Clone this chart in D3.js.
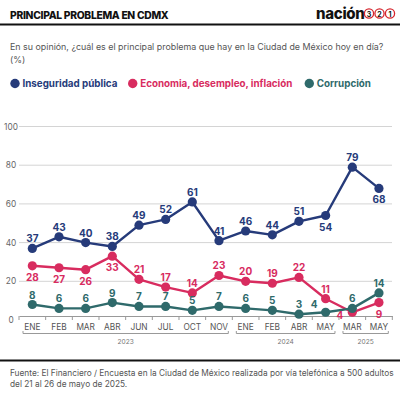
<!DOCTYPE html>
<html>
<head>
<meta charset="utf-8">
<script src="https://cdn.jsdelivr.net/npm/d3@7"></script>
<style>
  body { margin: 0; background: #fff; }
  svg text { font-family: "Inter", "Noto Sans", sans-serif; }
</style>
</head>
<body>
<div id="chart"></div>
<script>
// data
const months = ["ENE","FEB","MAR","ABR","JUN","JUL","OCT","NOV","ENE","FEB","ABR","MAY","MAR","MAY"];
const years = [
    { label: "2023", from: 0, to: 7 },
    { label: "2024", from: 8, to: 11 },
    { label: "2025", from: 12, to: 13 }
];
const inseguridad = [37,43,40,38,49,52,61,41,46,44,51,54,79,68];
const economia = [28,27,26,33,21,17,14,23,20,19,22,11,4,9];
const corrupcion = [8,6,6,9,7,7,5,7,6,5,3,4,6,14];
const yTicks = [0,20,40,60,80,100];

// label placement: "t" above, "b" below, "l" left, "tl" up-left
const inseguridadPos = ["t","t","t","t","t","t","t","t","t","t","t","b","t","b"];
const economiaPos = ["b","b","b","b","t","t","t","t","t","t","t","t","l","b"];
const corrupcionPos = ["t","t","t","t","t","t","t","t","t","t","t","tl","t","t"];

const series = [
    { name: "Inseguridad pública", values: inseguridad, pos: inseguridadPos, colour: "#263b7a" },
    { name: "Economia, desempleo, inflación", values: economia, pos: economiaPos, colour: "#d82c5f" },
    { name: "Corrupción", values: corrupcion, pos: corrupcionPos, colour: "#2f6a6b" }
];

const W = 400, H = 393;
const svg = d3.select("#chart").append("svg")
    .attr("width", W)
    .attr("height", H);

// header
svg.append("text")
    .attr("x", 10).attr("y", 19)
    .attr("font-size", 10.3).attr("font-weight", 800)
    .attr("fill", "#111")
    .style("letter-spacing", "-0.3px")
    .text("PRINCIPAL PROBLEMA EN CDMX");

svg.append("text")
    .attr("x", 316).attr("y", 18.5)
    .attr("font-size", 15).attr("font-weight", 800)
    .attr("fill", "#111")
    .style("letter-spacing", "-0.3px")
    .text("nación");

["3","2","1"].forEach((d, i) => {
    let cx = 369 + i * 10.5;
    svg.append("circle")
        .attr("cx", cx).attr("cy", 13.5).attr("r", 4.6)
        .attr("fill", "#fff").attr("stroke", "#d6262e").attr("stroke-width", 1.3);
    svg.append("text")
        .attr("x", cx).attr("y", 16.5)
        .attr("text-anchor", "middle")
        .attr("font-size", 7).attr("font-weight", 700)
        .attr("fill", "#111")
        .text(d);
});

svg.append("line")
    .attr("x1", 0).attr("x2", W)
    .attr("y1", 24.5).attr("y2", 24.5)
    .attr("stroke", "#111").attr("stroke-width", 2);

// subtitle
svg.append("text")
    .attr("x", 10).attr("y", 50)
    .attr("font-size", 8.9).attr("fill", "#555")
    .text("En su opinión, ¿cuál es el principal problema que hay en la Ciudad de México hoy en día?");
svg.append("text")
    .attr("x", 10).attr("y", 63)
    .attr("font-size", 8.9).attr("fill", "#555")
    .text("(%)");

// legend
const legendX = [15, 132.7, 309.3];
series.forEach((s, i) => {
    svg.append("circle")
        .attr("cx", legendX[i]).attr("cy", 83.5).attr("r", 4.7)
        .attr("fill", s.colour);
    svg.append("text")
        .attr("x", legendX[i] + 7.5).attr("y", 87)
        .attr("font-size", 9.8).attr("font-weight", 700)
        .attr("fill", s.colour)
        .text(s.name);
});

// scales
const x = d3.scaleBand()
    .domain(d3.range(months.length))
    .range([19, 392.3]);

const y = d3.scaleLinear()
    .domain([0, 100])
    .range([320, 126.5]);

const xc = i => x(i) + x.bandwidth() / 2;

// gridlines
svg.append("g")
    .selectAll("line")
    .data(yTicks.filter(d => d > 0))
    .enter().append("line")
    .attr("x1", 19).attr("x2", 392)
    .attr("y1", d => y(d)).attr("y2", d => y(d))
    .attr("stroke", "#d4d4d4").attr("stroke-width", 1);

svg.append("g")
    .selectAll("text")
    .data(yTicks)
    .enter().append("text")
    .attr("x", 11).attr("y", d => y(d) + 3)
    .attr("text-anchor", "middle")
    .attr("font-size", 8.3).attr("fill", "#666")
    .text(d => d);

// x axis
const axisY = 316;
const xAxis = svg.append("g")
    .attr("transform", "translate(0," + axisY + ")")
    .call(d3.axisBottom(x).tickSize(0).tickFormat(i => months[i]));
xAxis.select(".domain").attr("stroke", "#999").attr("stroke-width", 1);
xAxis.selectAll("text")
    .attr("dy", 0).attr("y", 14)
    .attr("font-size", 8.3).attr("fill", "#555")
    .style("font-family", "Inter, sans-serif");

// ticks between categories
xAxis.selectAll(".sep")
    .data(d3.range(months.length + 1))
    .enter().append("line")
    .attr("class", "sep")
    .attr("x1", i => 19 + i * x.step()).attr("x2", i => 19 + i * x.step())
    .attr("y1", 0).attr("y2", 4)
    .attr("stroke", "#999");

// year brackets
const yearG = svg.append("g");
years.forEach(yr => {
    let x1 = x(yr.from) + 4, x2 = x(yr.to) + x.bandwidth() - 4, by = 333.5;
    yearG.append("path")
        .attr("d", "M" + x1 + "," + (by - 2.5) + "V" + by + "H" + x2 + "V" + (by - 2.5))
        .attr("fill", "none").attr("stroke", "#999").attr("stroke-width", 1);
    yearG.append("text")
        .attr("x", (x1 + x2) / 2).attr("y", 343.5)
        .attr("text-anchor", "middle")
        .attr("font-size", 6.6).attr("fill", "#777")
        .text(yr.label);
});

// lines, points, labels
const line = d3.line()
    .x((d, i) => xc(i))
    .y(d => y(d));

series.forEach(s => {
    let g = svg.append("g");
    g.append("path")
        .datum(s.values)
        .attr("d", line)
        .attr("fill", "none")
        .attr("stroke", s.colour)
        .attr("stroke-width", 2.4)
        .attr("stroke-linejoin", "round");
    g.selectAll("circle")
        .data(s.values)
        .enter().append("circle")
        .attr("cx", (d, i) => xc(i))
        .attr("cy", d => y(d))
        .attr("r", 4.6)
        .attr("fill", s.colour);
});

series.forEach(s => {
    svg.append("g")
        .selectAll("text")
        .data(s.values)
        .enter().append("text")
        .attr("x", (d, i) => {
            let p = s.pos[i];
            if (p === "l") return xc(i) - 9;
            if (p === "tl") return xc(i) - 8;
            return xc(i);
        })
        .attr("y", (d, i) => {
            let p = s.pos[i];
            if (p === "b") return y(d) + 15;
            if (p === "l") return y(d) + 7;
            if (p === "tl") return y(d) - 4;
            return y(d) - 6;
        })
        .attr("text-anchor", (d, i) => (s.pos[i] === "l" || s.pos[i] === "tl") ? "end" : "middle")
        .attr("font-size", 10).attr("font-weight", 700)
        .attr("fill", s.colour)
        .text(d => d);
});

// footer
svg.append("line")
    .attr("x1", 0).attr("x2", W)
    .attr("y1", 360.5).attr("y2", 360.5)
    .attr("stroke", "#111").attr("stroke-width", 2);

svg.append("text")
    .attr("x", 10).attr("y", 376)
    .attr("font-size", 8.3).attr("fill", "#555")
    .text("Fuente: El Financiero / Encuesta en la Ciudad de México realizada por vía telefónica a 500 adultos");
svg.append("text")
    .attr("x", 10).attr("y", 387)
    .attr("font-size", 8.3).attr("fill", "#555")
    .text("del 21 al 26 de mayo de 2025.");
</script>
</body>
</html>
